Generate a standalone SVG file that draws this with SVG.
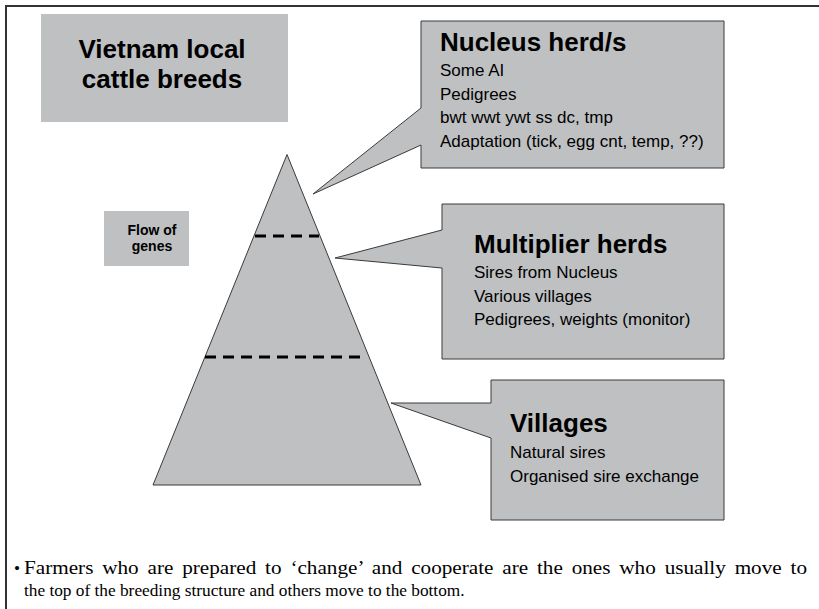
<svg xmlns="http://www.w3.org/2000/svg" width="819" height="609" viewBox="0 0 819 609">
<style>
.frame{fill:none;stroke:#333;stroke-width:2}
.plain{fill:#bfc0c2;stroke:none}
.shape{fill:#bfc0c2;stroke:#3a3a3a;stroke-width:1}
.dash{stroke:#000;stroke-width:3;stroke-dasharray:11 7;fill:none}
.hb{font-family:"Liberation Sans",Arial,sans-serif;font-weight:bold;fill:#000}
.h{font-family:"Liberation Sans",Arial,sans-serif;fill:#000}
.t{font-family:"Liberation Serif","Times New Roman",serif;fill:#000}
</style>
<rect width="819" height="609" fill="#fff"/>
<path class="frame" d="M6,609 V6 H819"/>
<g id="title">
<rect class="plain" x="41" y="14" width="247" height="108"/>
<text class="hb" font-size="26" text-anchor="middle"><tspan x="162" y="58">Vietnam local</tspan><tspan x="162" y="88">cattle breeds</tspan></text>
</g>
<g id="flow">
<rect class="plain" x="104" y="211" width="85" height="55"/>
<text class="hb" font-size="14" text-anchor="middle"><tspan x="152" y="235">Flow of</tspan><tspan x="152" y="251">genes</tspan></text>
</g>
<g id="pyramid">
<path class="shape" d="M287,154.5 L421,485 L153,485 Z"/>
<line class="dash" x1="255" y1="236" x2="319" y2="236"/>
<line class="dash" x1="205" y1="357" x2="367" y2="357"/>
</g>
<g id="connectors">
</g>
<g id="nucleus">
<path class="shape" d="M421,21 H724 V168 H421 V145 L313,194 L421,108 Z"/>
<text class="hb" font-size="26" x="440" y="51">Nucleus herd/s</text>
<text class="h" font-size="17"><tspan x="440" y="76">Some AI</tspan><tspan x="440" y="100">Pedigrees</tspan><tspan x="440" y="123">bwt wwt ywt ss dc, tmp</tspan><tspan x="440" y="147">Adaptation (tick, egg cnt, temp, ??)</tspan></text>
</g>
<g id="multiplier">
<path class="shape" d="M442,204 H724 V359 H442 V268 L335,258 L442,230 Z"/>
<text class="hb" font-size="26" x="474" y="253">Multiplier herds</text>
<text class="h" font-size="17"><tspan x="474" y="278">Sires from Nucleus</tspan><tspan x="474" y="302">Various villages</tspan><tspan x="474" y="325">Pedigrees, weights (monitor)</tspan></text>
</g>
<g id="villages">
<path class="shape" d="M491,380 H724 V520 H491 V438 L391,403 L491,403 Z"/>
<text class="hb" font-size="26" x="510" y="432">Villages</text>
<text class="h" font-size="17"><tspan x="510" y="458">Natural sires</tspan><tspan x="510" y="482">Organised sire exchange</tspan></text>
</g>
<g id="note">
<text class="t" font-size="17.3" x="14" y="574">•</text>
<text class="t" font-size="18" x="24" y="574" word-spacing="3" textLength="783" lengthAdjust="spacingAndGlyphs">Farmers who are prepared to ‘change’ and cooperate are the ones who usually move to</text>
<text class="t" font-size="17.3" x="24" y="596">the top of the breeding structure and others move to the bottom.</text>
</g>
</svg>
